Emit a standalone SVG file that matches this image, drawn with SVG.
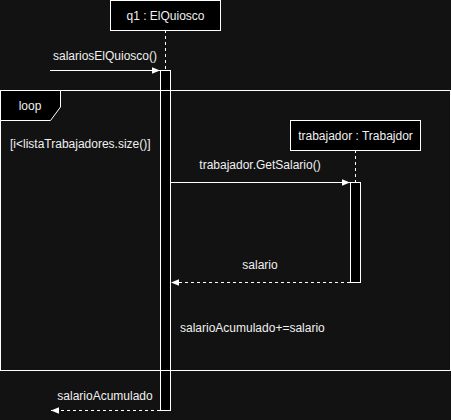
<svg xmlns="http://www.w3.org/2000/svg" width="451" height="420" viewBox="0 0 451 420">
<style>
.bg{fill:#121212}
.box{fill:#000;stroke:#fff;stroke-width:1}
.life{stroke:#fff;stroke-width:1;stroke-dasharray:3 3;fill:none}
.msg{stroke:#fff;stroke-width:1;fill:none}
.ret{stroke:#fff;stroke-width:1;stroke-dasharray:3 3;fill:none}
text{font-family:"Liberation Sans",Arial,Helvetica,sans-serif;font-size:12px;fill:#f0f0f0}
.c{text-anchor:middle}
</style>
<defs>
<marker id="arr" viewBox="0 0 10 10" refX="10" refY="5" markerWidth="8" markerHeight="8" markerUnits="userSpaceOnUse" orient="auto">
<path d="M0,1 L10,5 L0,9 Z" fill="#fff"/>
</marker>
</defs>
<rect class="bg" x="0" y="0" width="451" height="420"/>
<g id="q1">
<line class="life" x1="165.5" y1="30" x2="165.5" y2="70"/>
<rect class="box" x="110.5" y="0.5" width="110" height="30"/>
<text class="c" x="165.5" y="19.5">q1 : ElQuiosco</text>
<rect class="box" x="160.5" y="70.5" width="10" height="340"/>
</g>
<g id="trabajador">
<line class="life" x1="355.5" y1="150" x2="355.5" y2="182"/>
<rect class="box" x="290.5" y="120.5" width="130" height="30"/>
<text class="c" x="355.5" y="139.5">trabajador : Trabajdor</text>
<rect class="box" x="350.5" y="182.5" width="10" height="100"/>
</g>
<g id="loop">
<rect x="0.5" y="90.5" width="450" height="280" fill="none" stroke="#fff"/>
<path d="M0.5,90.5 H60.5 V107 L50.5,120.5 H0.5 Z" fill="#000" stroke="#fff"/>
<text class="c" x="30" y="109.5">loop</text>
<text x="10" y="147.5">[i&lt;listaTrabajadores.size()]</text>
</g>
<g id="connectors">
<line class="msg" x1="50" y1="70.5" x2="160" y2="70.5" marker-end="url(#arr)"/>
<text class="c" x="105" y="59.5">salariosElQuiosco()</text>
<line class="msg" x1="171" y1="182.5" x2="350" y2="182.5" marker-end="url(#arr)"/>
<text class="c" x="260" y="168.5">trabajador.GetSalario()</text>
<line class="ret" x1="350" y1="282.5" x2="171" y2="282.5" marker-end="url(#arr)"/>
<text class="c" x="260" y="268.5">salario</text>
<line class="ret" x1="160" y1="410.5" x2="51" y2="410.5" marker-end="url(#arr)"/>
<text class="c" x="105" y="399.5">salarioAcumulado</text>
</g>
<text x="180" y="331.5">salarioAcumulado+=salario</text>
</svg>
